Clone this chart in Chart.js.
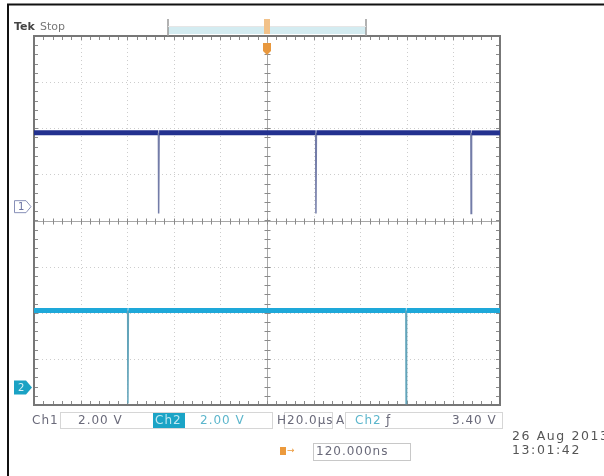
<!DOCTYPE html>
<html>
<head>
<meta charset="utf-8">
<script src="https://cdn.jsdelivr.net/npm/chart.js@4.4.1/dist/chart.umd.min.js"></script>
<style>
  html, body { margin: 0; padding: 0; background: #fff; }
</style>
</head>
<body>
<canvas id="scope" width="604" height="476"></canvas>
<script>
// Horizontal: 20 us/div, 10 divisions -> -100..100 us
const timeRange = [-100, 100];
const usPerDiv = 20;

// Channel 1 (dark blue), 2.00 V/div
const ch1Time  = [-100, -46.6, -46.5, -46.3, 20.9, 21.0, 21.2, 87.5, 87.6, 87.8, 100];
const ch1Volts = [3.2, 3.2, -0.3, 3.2, 3.2, -0.3, 3.2, 3.2, -0.3, 3.2, 3.2];

// Channel 2 (light blue), 2.00 V/div
const ch2Time  = [-100, -59.8, -59.7, -59.5, 59.6, 59.7, 59.9, 100];
const ch2Volts = [3.34, 3.34, -0.7, 3.34, 3.34, -0.7, 3.34, 3.34];

// volts/div and ground marker position (divisions from centre)
const ch1Scale = 2.0, ch1Ground = 0.3;
const ch2Scale = 2.0, ch2Ground = -3.62;

const toPoints = (ts, vs, scale, gnd) => ts.map((t, i) => ({ x: t, y: vs[i] / scale + gnd }));

// the short pulse edges are drawn thinner and paler than the flat trace
const isEdge = ctx => Math.abs(ctx.p1.parsed.x - ctx.p0.parsed.x) < 1;

const graticule = {
  id: 'graticule',
  beforeDatasetsDraw(chart) {
    const { ctx, chartArea: a, scales: { x, y } } = chart;
    ctx.save();
    // dotted division lines
    ctx.strokeStyle = '#cdcdcd';
    ctx.lineWidth = 1;
    ctx.setLineDash([1, 3]);
    for (let t = timeRange[0] + usPerDiv; t < timeRange[1]; t += usPerDiv) {
      if (t === 0) continue;
      const px = Math.round(x.getPixelForValue(t)) + 0.5;
      ctx.beginPath(); ctx.moveTo(px, a.top); ctx.lineTo(px, a.bottom); ctx.stroke();
    }
    for (let d = -3; d <= 3; d++) {
      if (d === 0) continue;
      const py = Math.round(y.getPixelForValue(d)) + 0.5;
      ctx.beginPath(); ctx.moveTo(a.left, py); ctx.lineTo(a.right, py); ctx.stroke();
    }
    ctx.setLineDash([]);
    // centre cross with minor ticks
    ctx.strokeStyle = '#a8a8a8';
    const cx = Math.round(x.getPixelForValue(0)) + 0.5;
    const cy = Math.round(y.getPixelForValue(0)) + 0.5;
    ctx.beginPath();
    ctx.moveTo(cx, a.top); ctx.lineTo(cx, a.bottom);
    ctx.moveTo(a.left, cy); ctx.lineTo(a.right, cy);
    ctx.stroke();
    ctx.strokeStyle = '#8a8a8a';
    ctx.beginPath();
    for (let t = timeRange[0]; t <= timeRange[1]; t += usPerDiv / 5) {
      const px = Math.round(x.getPixelForValue(t)) + 0.5;
      ctx.moveTo(px, cy - 3); ctx.lineTo(px, cy + 3);
      ctx.moveTo(px, a.top); ctx.lineTo(px, a.top + 4);
      ctx.moveTo(px, a.bottom); ctx.lineTo(px, a.bottom - 4);
    }
    for (let d = -4; d <= 4; d += 0.2) {
      const py = Math.round(y.getPixelForValue(d)) + 0.5;
      ctx.moveTo(cx - 3, py); ctx.lineTo(cx + 3, py);
      ctx.moveTo(a.left, py); ctx.lineTo(a.left + 4, py);
      ctx.moveTo(a.right, py); ctx.lineTo(a.right - 4, py);
    }
    ctx.stroke();
    // outer graticule border
    ctx.strokeStyle = '#777';
    ctx.lineWidth = 2;
    ctx.strokeRect(a.left, a.top, a.right - a.left, a.bottom - a.top);
    ctx.restore();
  },
  afterDraw(chart) {
    const { ctx, chartArea: a, scales: { x, y } } = chart;
    ctx.save();
    // picture frame
    ctx.strokeStyle = '#111';
    ctx.lineWidth = 2;
    ctx.beginPath();
    ctx.moveTo(8, 476); ctx.lineTo(8, 4.5); ctx.lineTo(604, 4.5);
    ctx.stroke();

    // record view bar on top
    ctx.fillStyle = '#d4ecf1';
    ctx.fillRect(168, 27, 198, 7);
    ctx.strokeStyle = '#999';
    ctx.lineWidth = 1.5;
    ctx.beginPath();
    ctx.moveTo(168, 19); ctx.lineTo(168, a.top);
    ctx.moveTo(366, 19); ctx.lineTo(366, a.top);
    ctx.stroke();
    ctx.strokeStyle = '#e6e6e6';
    ctx.lineWidth = 1;
    ctx.beginPath();
    ctx.moveTo(168, 26.5); ctx.lineTo(366, 26.5);
    ctx.stroke();

    // trigger position markers
    const tx = x.getPixelForValue(0);
    ctx.fillStyle = '#f2c28a';
    ctx.fillRect(tx - 3, 19, 6, 15);
    ctx.fillStyle = '#e8983e';
    ctx.beginPath();
    ctx.moveTo(tx - 4, 43); ctx.lineTo(tx + 4, 43); ctx.lineTo(tx + 4, 51);
    ctx.lineTo(tx, 55); ctx.lineTo(tx - 4, 51); ctx.closePath();
    ctx.fill();

    ctx.textBaseline = 'middle';
    // header
    ctx.font = 'bold 11px "DejaVu Sans"';
    ctx.fillStyle = '#444';
    ctx.fillText('Tek', 14, 27);
    ctx.font = '11px "DejaVu Sans"';
    ctx.fillStyle = '#777';
    ctx.fillText('Stop', 40, 27);

    // channel ground markers
    const m1 = y.getPixelForValue(ch1Ground);
    ctx.strokeStyle = '#8890b8';
    ctx.lineWidth = 1;
    ctx.beginPath();
    ctx.moveTo(14.5, m1 - 6); ctx.lineTo(26, m1 - 6); ctx.lineTo(31, m1);
    ctx.lineTo(26, m1 + 6); ctx.lineTo(14.5, m1 + 6); ctx.closePath();
    ctx.stroke();
    ctx.fillStyle = '#6870a0';
    ctx.font = '10px "DejaVu Sans"';
    ctx.fillText('1', 18, m1 + 0.5);

    const m2 = y.getPixelForValue(ch2Ground);
    ctx.fillStyle = '#1aa2c4';
    ctx.beginPath();
    ctx.moveTo(14, m2 - 7); ctx.lineTo(26, m2 - 7); ctx.lineTo(32, m2);
    ctx.lineTo(26, m2 + 7); ctx.lineTo(14, m2 + 7); ctx.closePath();
    ctx.fill();
    ctx.fillStyle = '#d8f2f8';
    ctx.fillText('2', 18, m2 + 0.5);

    // status line
    ctx.letterSpacing = '1px';
    ctx.font = '12px "DejaVu Sans"';
    ctx.strokeStyle = '#d6d6d6';
    ctx.lineWidth = 1;
    ctx.strokeRect(60.5, 412.5, 212, 16);
    ctx.strokeRect(284.5, 412.5, 48, 16);
    ctx.strokeRect(345.5, 412.5, 157, 16);
    ctx.fillStyle = '#1ba4c6';
    ctx.fillRect(153, 413, 32, 15);
    ctx.fillStyle = '#6a6a7a';
    ctx.fillText('Ch1', 32, 421);
    ctx.fillText('2.00 V', 78, 421);
    ctx.fillStyle = '#bfe8f2';
    ctx.fillText('Ch2', 155, 421);
    ctx.fillStyle = '#5cb6cc';
    ctx.fillText('2.00 V', 200, 421);
    ctx.fillStyle = '#6a6a7a';
    ctx.fillText('H', 277, 421);
    ctx.fillText('20.0µs', 287, 421);
    ctx.fillText('A', 336, 421);
    ctx.fillStyle = '#5cb6cc';
    ctx.fillText('Ch2', 355, 421);
    ctx.fillStyle = '#6a6a7a';
    ctx.fillText('ƒ', 386, 421);
    ctx.fillText('3.40 V', 452, 421);

    // delay readout
    ctx.fillStyle = '#ec9a3c';
    ctx.fillRect(280, 447, 6, 8);
    ctx.font = '9px "DejaVu Sans"';
    ctx.fillText('→', 287, 451);
    ctx.font = '12px "DejaVu Sans"';
    ctx.strokeStyle = '#c8c8c8';
    ctx.strokeRect(313.5, 443.5, 97, 17);
    ctx.fillStyle = '#6a6a7a';
    ctx.fillText('120.000ns', 316, 452);

    // date and time
    ctx.letterSpacing = '1.6px';
    ctx.font = '12.5px "DejaVu Sans"';
    ctx.fillStyle = '#555';
    ctx.fillText('26 Aug 2013', 512, 437);
    ctx.fillText('13:01:42', 512, 451);
    ctx.restore();
  }
};

new Chart(document.getElementById('scope'), {
  type: 'line',
  data: {
    datasets: [
      {
        label: 'Ch1',
        data: toPoints(ch1Time, ch1Volts, ch1Scale, ch1Ground),
        borderColor: '#23318f',
        borderWidth: 5,
        pointRadius: 0,
        segment: {
          borderWidth: ctx => isEdge(ctx) ? 1.5 : 5,
          borderColor: ctx => isEdge(ctx) ? '#737ca8' : '#23318f'
        }
      },
      {
        label: 'Ch2',
        data: toPoints(ch2Time, ch2Volts, ch2Scale, ch2Ground),
        borderColor: '#1ea8d9',
        borderWidth: 5,
        pointRadius: 0,
        segment: {
          borderWidth: ctx => isEdge(ctx) ? 1.5 : 5,
          borderColor: ctx => isEdge(ctx) ? '#62a4ba' : '#1ea8d9'
        }
      }
    ]
  },
  options: {
    responsive: false,
    animation: false,
    devicePixelRatio: 1,
    layout: { padding: { left: 34, top: 36, right: 104, bottom: 71 } },
    plugins: { legend: { display: false }, tooltip: { enabled: false } },
    scales: {
      x: {
        type: 'linear', min: timeRange[0], max: timeRange[1],
        grid: { display: false }, border: { display: false },
        ticks: { display: false },
        afterFit: s => { s.height = 0; }
      },
      y: {
        type: 'linear', min: -4, max: 4,
        grid: { display: false }, border: { display: false },
        ticks: { display: false },
        afterFit: s => { s.width = 0; }
      }
    }
  },
  plugins: [graticule]
});
</script>
</body>
</html>
